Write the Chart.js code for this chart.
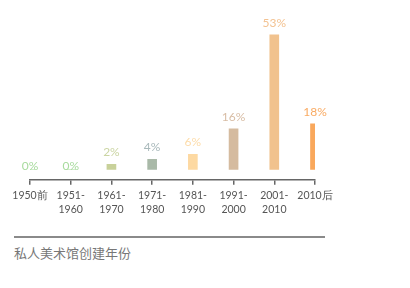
<!DOCTYPE html>
<html>
<head>
<meta charset="utf-8">
<script src="https://cdn.jsdelivr.net/npm/chart.js@4"></script>
<style>
  body { margin: 0; background: #fff; }
  #wrap { position: absolute; left: 0; top: 0; width: 410px; height: 228px; }
  #linha { position: absolute; left: 14px; top: 236px; width: 311px; height: 2px; background: #8a8a8a; }
  #titulo { position: absolute; left: 14px; top: 243px; font: 13px "Noto Sans CJK SC", sans-serif; color: #777; }
</style>
</head>
<body>
<div id="wrap"><canvas id="grafico"></canvas></div>
<div id="linha"></div>
<div id="titulo">私人美术馆创建年份</div>
<script>
const periodos = ['1950前', ['1951-', '1960'], ['1961-', '1970'], ['1971-', '1980'], ['1981-', '1990'], ['1991-', '2000'], ['2001-', '2010'], '2010后'];
const percentagens = [0, 0, 2, 4, 6, 16, 53, 18];
const coresBarras = ['#a6d99b', '#a6d99b', '#c8d19a', '#a9b9a8', '#fdd9a2', '#d5bb9f', '#f1c28e', '#f9a85c'];
const coresRotulos = ['#a8db9e', '#a8db9e', '#cbd5a3', '#a9b9bb', '#fddcaa', '#d8bda5', '#f3c291', '#f9aa62'];

// desenha o valor por cima de cada barra
const rotulosPlugin = {
  id: 'rotulos',
  afterDatasetsDraw(chart) {
    const ctx = chart.ctx;
    const barras = chart.getDatasetMeta(0).data;
    ctx.save();
    ctx.font = '12px Lato, sans-serif';
    ctx.textAlign = 'center';
    ctx.textBaseline = 'middle';
    barras.forEach((barra, i) => {
      const v = percentagens[i];
      ctx.fillStyle = coresRotulos[i];
      const y = v === 0 ? barra.y - 3 : barra.y - 12;
      ctx.fillText(v + '%', barra.x, y);
    });
    ctx.restore();
  }
};

new Chart(document.getElementById('grafico'), {
  type: 'bar',
  data: {
    labels: periodos,
    datasets: [{
      data: percentagens,
      backgroundColor: coresBarras,
      barThickness: 9
    }]
  },
  options: {
    responsive: true,
    maintainAspectRatio: false,
    animation: false,
    layout: { padding: { left: 30, right: 95, top: 17, bottom: 7 } },
    plugins: { legend: { display: false }, tooltip: { enabled: false } },
    scales: {
      y: { display: false, min: -4, max: 60 },
      x: {
        offset: false,
        grid: { display: true, offset: false, drawOnChartArea: false, drawTicks: true, tickLength: 5, color: '#666', lineWidth: 1.5 },
        border: { display: true, color: '#666', width: 1.5 },
        ticks: { color: '#555', font: { family: 'Lato', size: 10.5, lineHeight: 1.35 }, maxRotation: 0, autoSkip: false, padding: 4 }
      }
    }
  },
  plugins: [rotulosPlugin]
});
</script>
</body>
</html>
